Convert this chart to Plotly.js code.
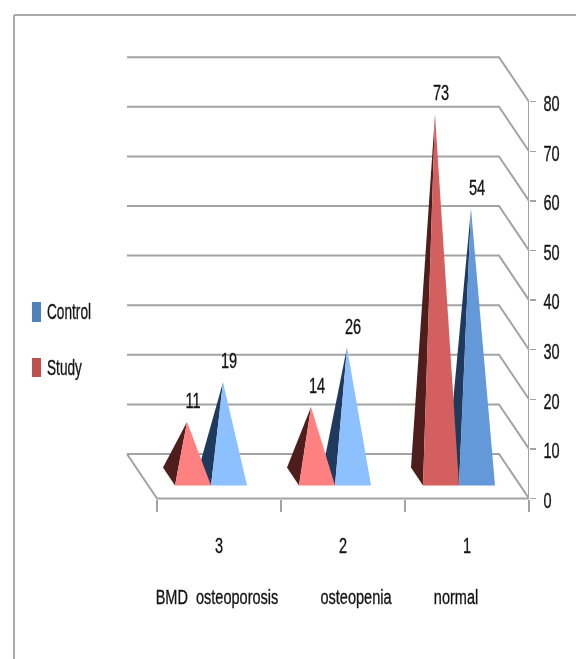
<!DOCTYPE html>
<html><head><meta charset="utf-8">
<script src="https://cdn.plot.ly/plotly-3.0.1.min.js"></script>
<style>html,body{margin:0;padding:0;background:#fff}#c{width:576px;height:659px;filter:blur(0.5px)}
#c svg text{stroke:#141414;stroke-width:0.35px}</style>
</head><body><div id="c"></div>
<script>
const categories = ['3','2','1'];
const groupLabels = ['BMD  osteoporosis','osteopenia','normal'];
const studyValues = [11,14,73];
const controlValues = [19,26,54];
const studyColors = ['#ff8080','#ff8080','#d45f5f'];
const controlColors = ['#8dc0ff','#8dc0ff','#6398d9'];
const yTicks = [0,10,20,30,40,50,60,70,80];

const W=576,H=659,R=47, AX0=157, CAT=124, Y0=498.5, UNIT=4.96;
const FONT='"Liberation Sans",sans-serif', TXT='#141414', GRID='#a3a3a3', FS=22, FS_GROUP=20;
const u=p=>(p-AX0)/CAT, v=p=>(Y0-p)/UNIT;   // pixel lengths to data units
const du=p=>p/CAT, dv=p=>p/UNIT;

const traces=[];
const backDU=du(-30), backDV=dv(44.5), wallLeft=0;
yTicks.forEach(t=>{
  traces.push({x:[wallLeft+backDU,3+backDU,3],y:[t+backDV,t+backDV,t],mode:'lines',
    line:{color:GRID,width:2},hoverinfo:'skip'});
});
traces.push({x:[backDU,0,3],y:[backDV,0,0],mode:'lines',line:{color:GRID,width:2},hoverinfo:'skip'});
traces.push({x:[3,3],y:[0,80],mode:'lines',line:{color:GRID,width:2},hoverinfo:'skip'});

const W_P=du(36), FRONT_V=dv(13), DEPTH_U=du(-12), DEPTH_V=dv(18);
function label(xp,yp,t,pos,size){
  traces.push({x:[xp],y:[yp],mode:'text',text:[t],textposition:pos||'middle center',
    textfont:{family:FONT,size:size||FS,color:TXT},cliponaxis:false,hoverinfo:'skip'});
}
function pyramid(i,val,off,front,side,name){
  const xl=i+off, xr=xl+W_P, ax=xl+W_P/2+DEPTH_U/2, ay=val+FRONT_V+DEPTH_V/2;
  traces.push({x:[xl+DEPTH_U,xl,ax,xl+DEPTH_U],y:[FRONT_V+DEPTH_V,FRONT_V,ay,FRONT_V+DEPTH_V],
    mode:'lines',fill:'toself',fillcolor:side,line:{width:0,color:side},name:name,hoverinfo:'skip'});
  traces.push({x:[xl,xr,ax,xl],y:[FRONT_V,FRONT_V,ay,FRONT_V],
    mode:'lines',fill:'toself',fillcolor:front,line:{width:0,color:front},name:name,hoverinfo:'skip'});
  label(ax+du(6),ay+dv(21),String(val));
}
categories.forEach((c,i)=>pyramid(i,controlValues[i],u(211),controlColors[i],'#1f3a5c','Control'));
categories.forEach((c,i)=>pyramid(i,studyValues[i],u(175),studyColors[i],'#4e1e1c','Study'));

const labelX=[217,356,456];
groupLabels.forEach((t,i)=>label(u(labelX[i]),v(597),t,'middle center',FS_GROUP));
const legendItems=[['Control','#4f81bd',302,322,312],['Study','#c0504d',358,377,368]];
const shapes=[];
legendItems.forEach(l=>{
  shapes.push({type:'rect',xref:'x',yref:'y',x0:u(32),x1:u(41),y0:v(l[3]),y1:v(l[2]),fillcolor:l[1],line:{width:0}});
  label(u(47),v(l[4]),l[0],'middle right');
});
shapes.push({type:'line',xref:'paper',yref:'paper',x0:14/(W-R),x1:W/(W-R),y0:1-15/H,y1:1-15/H,line:{color:'#aaaaaa',width:2}});
shapes.push({type:'line',xref:'paper',yref:'paper',x0:14/(W-R),x1:14/(W-R),y0:0,y1:1-15/H,line:{color:'#aaaaaa',width:2}});

Plotly.newPlot('c',traces,{
  width:W,height:H,margin:{l:0,r:R,t:0,b:0,pad:0},showlegend:false,
  paper_bgcolor:'#fff',plot_bgcolor:'#fff',
  xaxis:{range:[u(0),3],anchor:'free',position:(H-Y0)/H,zeroline:false,showgrid:false,showline:false,
    tickmode:'array',tickvals:[0.5,1.5,2.5],ticktext:categories,ticks:'',ticklabelstandoff:30,
    tickfont:{family:FONT,size:FS,color:TXT},
    minor:{tickmode:'array',tickvals:[0,1,2,3],ticks:'outside',ticklen:12,tickwidth:1.5,tickcolor:GRID,showgrid:false}},
  yaxis:{range:[v(H),v(0)],side:'right',anchor:'free',position:1,zeroline:false,showgrid:false,showline:false,
    tickmode:'array',tickvals:yTicks,ticks:'outside',ticklen:6,tickwidth:1.5,tickcolor:GRID,ticklabelstandoff:3,
    tickfont:{family:FONT,size:FS,color:TXT}},
  shapes:shapes
},{displayModeBar:false,staticPlot:true}).then(gd=>{
  // condense every label horizontally, as in the reference's squeezed lettering
  gd.querySelectorAll('svg text').forEach(t=>{
    const s=t.textContent, n=t.getComputedTextLength();
    if(!n) return;
    const f=(s==='Control'||s==='Study')?0.62:(groupLabels.includes(s)?0.726:0.66);
    t.setAttribute('textLength',(n*f).toFixed(1));
    t.setAttribute('lengthAdjust','spacingAndGlyphs');
    t.setAttribute('dy','1.5');
  });
});
</script></body></html>
